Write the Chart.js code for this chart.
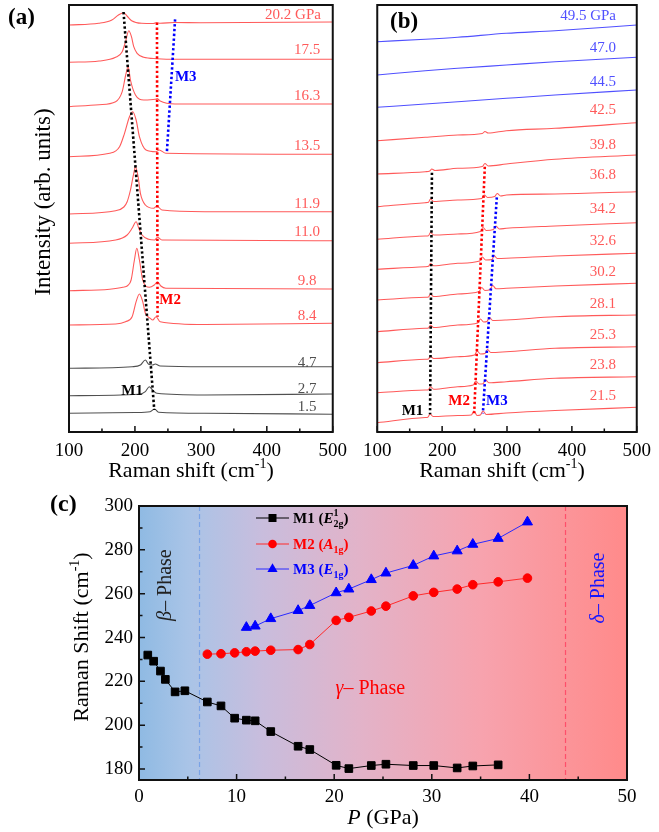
<!DOCTYPE html>
<html><head><meta charset="utf-8">
<script src="https://cdn.jsdelivr.net/npm/chart.js@4.4.0/dist/chart.umd.min.js"></script>
<style>
html,body{margin:0;padding:0;background:#fff;width:659px;height:832px;overflow:hidden;}
canvas{position:absolute;}
#ca{left:0;top:0;width:355px;height:485px;}
#cb{left:355px;top:0;width:304px;height:485px;}
#cc{left:0;top:485px;width:659px;height:347px;}
</style></head><body>
<canvas id="ca" width="355" height="485"></canvas>
<canvas id="cb" width="304" height="485"></canvas>
<canvas id="cc" width="659" height="347"></canvas>
<script>
// ================= DATA =================
const ramanTicks = [100, 200, 300, 400, 500];
const pressureTicks = [0, 10, 20, 30, 40, 50];
const shiftTicks = [180, 200, 220, 240, 260, 280, 300];

// Panel (a): spectra [Raman shift cm-1, intensity arb.]
const labelsA = ['1.5', '2.7', '4.7', '8.4', '9.8', '11.0', '11.9', '13.5', '16.3', '17.5', '20.2 GPa'];
const spec_a_1_5 = [[100,18.7],[200,19.5],[223,20.3],[229.8,23],[235.8,19.7],[306,18.7],[500,17.7]];
const spec_a_2_7 = [[100,36.3],[205.8,37.7],[215.8,40.3],[221.8,45.3],[226.8,42],[233.3,38.7],[306,37],[500,38]];
const spec_a_4_7 = [[100,63.7],[195.7,65.3],[208.3,67],[215.8,72],[220.8,67.7],[226.8,67],[230.8,68],[238.3,66],[306,65.3],[500,65.3]];
const spec_a_8_4 = [[100,107],[170.7,108],[185.7,110.3],[195.7,115.3],[201.8,130.3],[206.8,138],[211.8,130.3],[215.8,118.7],[223.3,113.7],[227,112],[232,115.3],[238.3,110.3],[306,107.5],[500,108.7]];
const spec_a_9_8 = [[100,141.3],[161.7,142.7],[181.7,144.7],[189.2,146.5],[194.2,152],[199.2,172],[202.8,183.7],[206.8,172],[211.8,152],[221.8,144.7],[229.3,147],[234.3,150.3],[239.3,146],[246.9,143.7],[500,143]];
const spec_a_11_0 = [[100,188.7],[170.7,192],[188.2,197],[195.7,203.7],[201.8,210.3],[205.8,203.7],[210.8,197],[220.8,192.7],[229.8,192],[234.3,194.7],[240.9,192],[500,191.3]];
const spec_a_11_9 = [[100,218],[170.7,221.3],[183.2,225],[188.2,230.3],[193.2,242],[198.2,258.7],[200.8,265.3],[204.8,255.3],[208.3,238.7],[215.8,227],[228.3,223.7],[233.3,226],[240.9,222],[306,220.3],[500,220.3]];
const spec_a_13_5 = [[100,275.3],[161.7,278.7],[176.7,285.3],[184.2,298.7],[191.7,315.3],[196.7,320.3],[201.8,312],[206.8,295.3],[216.8,282],[231.9,280.3],[236.8,282],[246.9,278.7],[500,277.7]];
const spec_a_16_3 = [[100,325.3],[145.6,327.3],[170.7,330.3],[180.7,340.3],[186,357],[189.7,365.3],[193.2,352],[200.8,337],[213.3,332],[230.8,332.7],[234,333.5],[238.3,331],[260.9,328],[500,328]];
const spec_a_17_5 = [[100,369.7],[145.6,371],[170.7,374.7],[180.7,380.3],[185.7,390.3],[190.7,401.3],[194.7,395.3],[198.2,385.3],[203.3,378.7],[213.3,374.7],[233.3,373.3],[260.9,372.7],[500,372.7]];
const spec_a_20_2 = [[100,407],[145,408.7],[165,412],[175,417],[182.7,419.3],[188,416],[195,411.3],[210,408.7],[228,408.5],[233,409.5],[238,408.7],[260,409.5],[300,409.3],[500,410]];
const guideA_M1 = [[182.7,420],[229.3,22]];
const guideA_M2 = [[233.4,409.3],[234.3,115.3]];
const guideA_M3 = [[260.9,412.7],[248.4,279.3]];

// Panel (b)
const labelsB = ['21.5', '23.8', '25.3', '28.1', '30.2', '32.6', '34.2', '36.8', '39.8', '42.5', '44.5', '47.0', '49.5 GPa'];
const spec_b_21_5 = [[100,9.3],[174,14.5],[178,14.8],[181.5,18],[186,15.5],[224,16.5],[245,17],[249,21],[254,16.5],[259,17],[263,21],[268,17.5],[299,19],[374,21.5],[500,24.7]];
const spec_b_23_8 = [[100,39.3],[174,42],[179,42.3],[182,45.2],[187,42.8],[224,45.3],[248,47],[252,51],[257,48],[263,48.3],[267,52.3],[272,49.2],[299,50.3],[374,53.7],[500,55.3]];
const spec_b_25_3 = [[100,69.3],[174,72.7],[179,73],[182,75.8],[187,73.5],[224,75.3],[250,77],[254,81],[259,78],[266,78.5],[270,82.5],[275,79.5],[299,80.3],[374,83.7],[500,85.3]];
const spec_b_28_1 = [[100,100.3],[174,103.7],[179,104],[182,106.8],[187,104.5],[224,107],[255,109],[259,113],[264,110],[269,110.5],[273,114.5],[278,111.5],[299,112],[374,115.3],[500,117]];
const spec_b_30_2 = [[100,132],[174,134.7],[179,135],[182,137.8],[187,135.5],[224,138],[257,140.5],[261,144.5],[266,141.5],[274,142.5],[278,146.5],[283,143.3],[299,143.7],[374,146],[500,148.7]];
const spec_b_32_6 = [[100,162.7],[174,165.3],[179,165.7],[182,168.5],[187,166.2],[224,168.7],[258,171],[262,175],[267,172],[277,172.5],[280,176.5],[285,173.5],[299,173.7],[374,176],[500,178.7]];
const spec_b_34_2 = [[100,192.7],[174,196],[179,196.3],[182,199.5],[187,197],[224,198],[259,200.5],[263,204.5],[268,201.5],[279,202.5],[283,206],[288,203],[299,203.7],[374,206],[500,209.3]];
const spec_b_36_8 = [[100,225.3],[174,229.3],[179,229.8],[182,233],[187,230.5],[224,232],[261,233.5],[265,237],[270,234.5],[281,235.5],[285,238.5],[290,236],[299,237],[374,238],[500,240.3]];
const spec_b_39_8 = [[100,258],[174,260.3],[181,261],[184,263],[189,261.5],[224,263.7],[262,265.5],[266,268.5],[271,266],[299,268],[374,272.7],[500,277]];
const spec_b_42_5 = [[100,291.3],[174,294.7],[224,297],[262,298.5],[266,300.5],[271,299],[299,301.3],[374,303.7],[500,309.3]];
const spec_b_44_5 = [[100,324.7],[174,328],[224,330.3],[299,333.7],[374,337],[500,342]];
const spec_b_47_0 = [[100,357],[174,361.3],[224,363.7],[299,367],[374,370.3],[500,374.7]];
const spec_b_49_5 = [[100,390.3],[174,392.7],[224,394.7],[299,398.7],[374,401.3],[500,407]];
const guideB_M1 = [[184.3,259.3],[181.4,17.7]];
const guideB_M2 = [[265.8,265.3],[249.4,18.7]];
const guideB_M3 = [[284.3,234.7],[262.8,18.7]];

// Panel (c): Raman shift vs pressure
const pressureM1 = [0.9,1.5,2.2,2.7,3.7,4.7,7.0,8.4,9.8,11.0,11.9,13.5,16.3,17.5,20.2,21.5,23.8,25.3,28.1,30.2,32.6,34.2,36.8];
const shiftM1 = [232.0,229.2,224.7,220.9,215.2,215.7,210.6,208.8,203.2,202.3,202.0,197.1,190.4,188.9,181.7,180.2,181.6,182.2,181.6,181.6,180.5,181.4,181.9];
const pressureM2 = [7.0,8.4,9.8,11.0,11.9,13.5,16.3,17.5,20.2,21.5,23.8,25.3,28.1,30.2,32.6,34.2,36.8,39.8];
const shiftM2 = [232.4,232.6,233.0,233.5,233.8,234.2,234.5,236.8,247.8,249.2,252.1,254.3,259.0,260.6,262.1,264.1,265.4,267.1];
const pressureM3 = [11.0,11.9,13.5,16.3,17.5,20.2,21.5,23.8,25.3,28.1,30.2,32.6,34.2,36.8,39.8];
const shiftM3 = [244.6,245.2,248.6,252.3,254.6,260.4,262.1,266.4,269.4,272.9,277.2,279.5,282.5,285.2,292.7];
const phaseBoundaries = [6.2, 43.7];

// ================= HELPERS =================
const SERIF = '"Liberation Serif","Times New Roman",serif';
const F = (size, style) => (style ? style + ' ' : '') + size + 'px ' + SERIF;
const RED = '#ff5a5a', GREY = '#505050', BLUE = '#5050ff';

const toXY = arr => arr.map(p => ({x: p[0], y: p[1]}));
const specDS = (pts, color) => ({data: toXY(pts), borderColor: color, borderWidth: 1.1, pointRadius: 0, cubicInterpolationMode: 'monotone', fill: false, order: 2});
const guideDS = (pts, color) => ({data: toXY(pts), borderColor: color, borderWidth: 2.6, borderDash: [2.4, 2.4], borderCapStyle: 'butt', pointRadius: 0, tension: 0, fill: false, order: 1});

function drawRich(ctx, segs, x, y, align, color) {
  const widths = segs.map(s => { ctx.font = s.f; return ctx.measureText(s.t).width; });
  let total = 0, pend = 0;
  segs.forEach((s, i) => { if (s.stack) pend = Math.max(pend, widths[i]); else { total += Math.max(pend, widths[i]); pend = 0; } });
  let cx = align === 'center' ? x - total / 2 : align === 'right' ? x - total : x;
  pend = 0;
  ctx.textAlign = 'left'; ctx.textBaseline = 'alphabetic';
  segs.forEach((s, i) => {
    ctx.font = s.f; ctx.fillStyle = s.c || color;
    ctx.fillText(s.t, cx, y + (s.dy || 0));
    if (s.stack) pend = Math.max(pend, widths[i]); else { cx += Math.max(pend, widths[i]); pend = 0; }
  });
}
function rotated(ctx, x, y, fn) { ctx.save(); ctx.translate(x, y); ctx.rotate(-Math.PI / 2); fn(); ctx.restore(); }
const ramanTitle = () => [{t: 'Raman shift (cm', f: F(22)}, {t: '-1', f: F(14), dy: -9}, {t: ')', f: F(22)}];

function frameAndTicks(chart, xMinor, yTicks, yMinor) {
  const {ctx, chartArea: a, scales: {x, y}} = chart;
  ctx.save();
  ctx.strokeStyle = '#111'; ctx.lineWidth = 2;
  ctx.strokeRect(a.left, a.top, a.right - a.left, a.bottom - a.top);
  ctx.lineWidth = 1.5;
  ctx.beginPath();
  x.ticks.forEach(t => { const px = x.getPixelForValue(t.value); ctx.moveTo(px, a.bottom); ctx.lineTo(px, a.bottom - 6); });
  xMinor.forEach(v => { const px = x.getPixelForValue(v); ctx.moveTo(px, a.bottom); ctx.lineTo(px, a.bottom - 3.5); });
  if (yTicks) {
    yTicks.forEach(v => { const py = y.getPixelForValue(v); ctx.moveTo(a.left, py); ctx.lineTo(a.left + 6, py); });
    yMinor.forEach(v => { const py = y.getPixelForValue(v); ctx.moveTo(a.left, py); ctx.lineTo(a.left + 3.5, py); });
  }
  ctx.stroke();
  ctx.restore();
}

const ramanMinor = ramanTicks.slice(0, -1).map(v => v + 50);

// ================= PANEL (a) =================
const specA = [spec_a_1_5, spec_a_2_7, spec_a_4_7, spec_a_8_4, spec_a_9_8, spec_a_11_0, spec_a_11_9, spec_a_13_5, spec_a_16_3, spec_a_17_5, spec_a_20_2];
const colA = specA.map((s, i) => i < 3 ? GREY : RED);
const labelOffA = [7.5, 5, 4, 7.5, 8.3, 8.4, 7.7, 8.3, 8.3, 9.3, 7];

const plotA = {
  id: 'plotA',
  afterDraw(chart) {
    const {ctx, scales: {x, y}} = chart;
    frameAndTicks(chart, ramanMinor);
    ctx.save();
    specA.forEach((s, i) => {
      const last = s[s.length - 1];
      const py = y.getPixelForValue(last[1]) - labelOffA[i];
      ctx.font = F(15); ctx.fillStyle = colA[i]; ctx.textBaseline = 'middle';
      if (labelsA[i].indexOf('GPa') >= 0) { ctx.textAlign = 'right'; ctx.fillText(labelsA[i], x.getPixelForValue(482), py); }
      else { ctx.textAlign = 'center'; ctx.fillText(labelsA[i], x.getPixelForValue(461), py); }
    });
    ctx.font = F(15, 'bold'); ctx.textAlign = 'center'; ctx.textBaseline = 'middle';
    ctx.fillStyle = '#000'; ctx.fillText('M1', x.getPixelForValue(195.8), y.getPixelForValue(41));
    ctx.fillStyle = '#ff0000'; ctx.fillText('M2', x.getPixelForValue(253.4), y.getPixelForValue(132));
    ctx.fillStyle = '#0000ff'; ctx.fillText('M3', x.getPixelForValue(277), y.getPixelForValue(354.7));
    ctx.fillStyle = '#000'; ctx.font = F(23, 'bold'); ctx.textAlign = 'left'; ctx.textBaseline = 'alphabetic';
    ctx.fillText('(a)', 8, 24);
    drawRich(ctx, ramanTitle(), 191, 477, 'center', '#000');
    rotated(ctx, 50, 202, () => { drawRich(ctx, [{t: 'Intensity (arb. units)', f: F(23)}], 0, 0, 'center', '#000'); });
    ctx.restore();
  }
};

new Chart(document.getElementById('ca'), {
  type: 'line',
  data: {datasets: [guideDS(guideA_M1, '#000'), guideDS(guideA_M2, '#ff0000'), guideDS(guideA_M3, '#0000ff')]
    .concat(specA.map((s, i) => specDS(s, colA[i])))},
  options: {
    responsive: false, animation: false, events: [],
    layout: {padding: {left: 69, top: 5, right: 20, bottom: 0}},
    plugins: {legend: {display: false}, tooltip: {enabled: false}},
    scales: {
      x: {type: 'linear', min: 100, max: 500,
          afterBuildTicks: s => { s.ticks = ramanTicks.map(v => ({value: v})); },
          ticks: {font: {family: SERIF, size: 19}, color: '#000', padding: 8, maxRotation: 0},
          grid: {display: false, drawTicks: false}, border: {display: false},
          afterFit: s => { s.height = 53; }},
      y: {type: 'linear', min: 0, max: 427, display: false}
    }
  },
  plugins: [plotA]
});

// ================= PANEL (b) =================
const specB = [spec_b_21_5, spec_b_23_8, spec_b_25_3, spec_b_28_1, spec_b_30_2, spec_b_32_6, spec_b_34_2, spec_b_36_8, spec_b_39_8, spec_b_42_5, spec_b_44_5, spec_b_47_0, spec_b_49_5];
const colB = specB.map((s, i) => i >= 10 ? BLUE : RED);
const labelOffB = [11.3, 11.7, 11.7, 11, 11.6, 12.3, 13.4, 16.7, 10, 12.7, 8.3, 9.3, 9.3];

const plotB = {
  id: 'plotB',
  afterDraw(chart) {
    const {ctx, scales: {x, y}} = chart;
    frameAndTicks(chart, ramanMinor);
    ctx.save();
    specB.forEach((s, i) => {
      const last = s[s.length - 1];
      const py = y.getPixelForValue(last[1]) - labelOffB[i];
      ctx.font = F(15); ctx.fillStyle = colB[i]; ctx.textBaseline = 'middle'; ctx.textAlign = 'center';
      ctx.fillText(labelsB[i], x.getPixelForValue(labelsB[i].indexOf('GPa') >= 0 ? 425 : 447.6), py);
    });
    ctx.font = F(15, 'bold'); ctx.textAlign = 'center'; ctx.textBaseline = 'middle';
    ctx.fillStyle = '#000'; ctx.fillText('M1', x.getPixelForValue(154.4), y.getPixelForValue(21));
    ctx.fillStyle = '#ff0000'; ctx.fillText('M2', x.getPixelForValue(226.3), y.getPixelForValue(31));
    ctx.fillStyle = '#0000ff'; ctx.fillText('M3', x.getPixelForValue(284.3), y.getPixelForValue(31));
    ctx.fillStyle = '#000'; ctx.font = F(23, 'bold'); ctx.textAlign = 'left'; ctx.textBaseline = 'alphabetic';
    ctx.fillText('(b)', 35, 28);
    drawRich(ctx, ramanTitle(), 147, 477, 'center', '#000');
    ctx.restore();
  }
};

new Chart(document.getElementById('cb'), {
  type: 'line',
  data: {datasets: [guideDS(guideB_M1, '#000'), guideDS(guideB_M2, '#ff0000'), guideDS(guideB_M3, '#0000ff')]
    .concat(specB.map((s, i) => specDS(s, colB[i])))},
  options: {
    responsive: false, animation: false, events: [],
    layout: {padding: {left: 22, top: 5, right: 15, bottom: 0}},
    plugins: {legend: {display: false}, tooltip: {enabled: false}},
    scales: {
      x: {type: 'linear', min: 100, max: 500,
          afterBuildTicks: s => { s.ticks = ramanTicks.map(v => ({value: v})); },
          ticks: {font: {family: SERIF, size: 19}, color: '#000', padding: 8, maxRotation: 0},
          grid: {display: false, drawTicks: false}, border: {display: false},
          afterFit: s => { s.height = 53; }},
      y: {type: 'linear', min: 0, max: 427, display: false}
    }
  },
  plugins: [plotB]
});

// ================= PANEL (c) =================
const plotC = {
  id: 'plotC',
  beforeDatasetsDraw(chart) {
    const {ctx, chartArea: a, scales: {x, y}} = chart;
    ctx.save();
    const g = ctx.createLinearGradient(a.left, 0, a.right, 0);
    g.addColorStop(0, '#8fbae3');
    g.addColorStop(0.1, '#a9c4e7');
    g.addColorStop(0.25, '#c8bddd');
    g.addColorStop(0.45, '#e2b3c9');
    g.addColorStop(0.7, '#f7a3ae');
    g.addColorStop(1, '#ff8a8a');
    ctx.fillStyle = g;
    ctx.fillRect(a.left, a.top, a.right - a.left, a.bottom - a.top);
    ctx.lineWidth = 1.2; ctx.setLineDash([5, 3]);
    [['#7aa3e6', phaseBoundaries[0]], ['#ff4f6a', phaseBoundaries[1]]].forEach(([c, v]) => {
      const px = x.getPixelForValue(v);
      ctx.strokeStyle = c; ctx.beginPath(); ctx.moveTo(px, a.top); ctx.lineTo(px, a.bottom); ctx.stroke();
    });
    ctx.setLineDash([]);
    // phase labels
    rotated(ctx, x.getPixelForValue(2.55), y.getPixelForValue(263.9), () => {
      drawRich(ctx, [{t: 'β', f: F(20, 'italic')}, {t: '– Phase', f: F(20)}], 0, 7, 'center', '#222');
    });
    drawRich(ctx, [{t: 'γ', f: F(20, 'italic')}, {t: '– Phase', f: F(20)}], x.getPixelForValue(23.7), y.getPixelForValue(217.4) + 7, 'center', '#ff0000');
    rotated(ctx, x.getPixelForValue(46.9), y.getPixelForValue(262.6), () => {
      drawRich(ctx, [{t: 'δ', f: F(20, 'italic')}, {t: '– Phase', f: F(20)}], 0, 7, 'center', '#1515ff');
    });
    ctx.restore();
  },
  afterDraw(chart) {
    const {ctx} = chart;
    frameAndTicks(chart, [5, 15, 25, 35, 45], shiftTicks, [190, 210, 230, 250, 270, 290]);
    ctx.save();
    // legend
    const rows = [
      {c: '#000', lc: '#000', style: 'rect', y: 33, segs: [{t: 'M1 (', f: F(15, 'bold')}, {t: 'E', f: F(15, 'bold italic')}, {t: '1', f: F(10, 'bold'), dy: -7, stack: true}, {t: '2g', f: F(10, 'bold'), dy: 4}, {t: ')', f: F(15, 'bold')}]},
      {c: '#ff0000', lc: '#ff2a2a', style: 'circle', y: 59, segs: [{t: 'M2 (', f: F(15, 'bold')}, {t: 'A', f: F(15, 'bold italic')}, {t: '1g', f: F(10, 'bold'), dy: 4}, {t: ')', f: F(15, 'bold')}]},
      {c: '#0000ff', lc: '#2a2aff', style: 'tri', y: 84, segs: [{t: 'M3 (', f: F(15, 'bold')}, {t: 'E', f: F(15, 'bold italic')}, {t: '1g', f: F(10, 'bold'), dy: 4}, {t: ')', f: F(15, 'bold')}]}
    ];
    rows.forEach(r => {
      ctx.strokeStyle = r.lc; ctx.lineWidth = 1;
      ctx.beginPath(); ctx.moveTo(256, r.y); ctx.lineTo(289, r.y); ctx.stroke();
      ctx.fillStyle = r.c; ctx.beginPath();
      if (r.style === 'rect') ctx.rect(272.5 - 4, r.y - 4, 8, 8);
      else if (r.style === 'circle') ctx.arc(272.5, r.y, 4.3, 0, Math.PI * 2);
      else { ctx.moveTo(272.5, r.y - 5.8); ctx.lineTo(272.5 + 5.1, r.y + 3); ctx.lineTo(272.5 - 5.1, r.y + 3); ctx.closePath(); }
      ctx.fill();
      drawRich(ctx, r.segs, 293, r.y + 5, 'left', r.c);
    });
    ctx.fillStyle = '#000'; ctx.font = F(24, 'bold'); ctx.textAlign = 'left'; ctx.textBaseline = 'alphabetic';
    ctx.fillText('(c)', 50, 26);
    drawRich(ctx, [{t: 'P', f: F(22, 'italic')}, {t: ' (GPa)', f: F(22)}], 383, 339, 'center', '#000');
    rotated(ctx, 88, 152, () => {
      drawRich(ctx, [{t: 'Raman Shift (cm', f: F(22)}, {t: '-1', f: F(14), dy: -9}, {t: ')', f: F(22)}], 0, 0, 'center', '#000');
    });
    ctx.restore();
  }
};

const seriesDS = (xs, ys, color, lineColor, style, r) => ({
  data: xs.map((v, i) => ({x: v, y: ys[i]})),
  borderColor: lineColor, backgroundColor: color, borderWidth: 1,
  pointStyle: style, pointRadius: r, pointBackgroundColor: color, pointBorderColor: color, pointBorderWidth: 1,
  tension: 0, fill: false
});

new Chart(document.getElementById('cc'), {
  type: 'line',
  data: {datasets: [
    seriesDS(pressureM1, shiftM1, '#000', '#000', 'rect', 5.4),
    seriesDS(pressureM2, shiftM2, '#ff0000', '#ff2a2a', 'circle', 4.3),
    seriesDS(pressureM3, shiftM3, '#0000ff', '#2a2aff', 'triangle', 5.8)
  ]},
  options: {
    responsive: false, animation: false, events: [],
    layout: {padding: {left: 0, top: 21, right: 32, bottom: 0}},
    plugins: {legend: {display: false}, tooltip: {enabled: false}},
    scales: {
      x: {type: 'linear', min: 0, max: 50,
          afterBuildTicks: s => { s.ticks = pressureTicks.map(v => ({value: v})); },
          ticks: {font: {family: SERIF, size: 19}, color: '#000', padding: 6, maxRotation: 0},
          grid: {display: false, drawTicks: false}, border: {display: false},
          afterFit: s => { s.height = 52; }},
      y: {type: 'linear', min: 175, max: 300,
          afterBuildTicks: s => { s.ticks = shiftTicks.map(v => ({value: v})); },
          ticks: {font: {family: SERIF, size: 19}, color: '#000', padding: 6},
          grid: {display: false, drawTicks: false}, border: {display: false},
          afterFit: s => { s.width = 139; }}
    }
  },
  plugins: [plotC]
});
</script>
</body></html>
